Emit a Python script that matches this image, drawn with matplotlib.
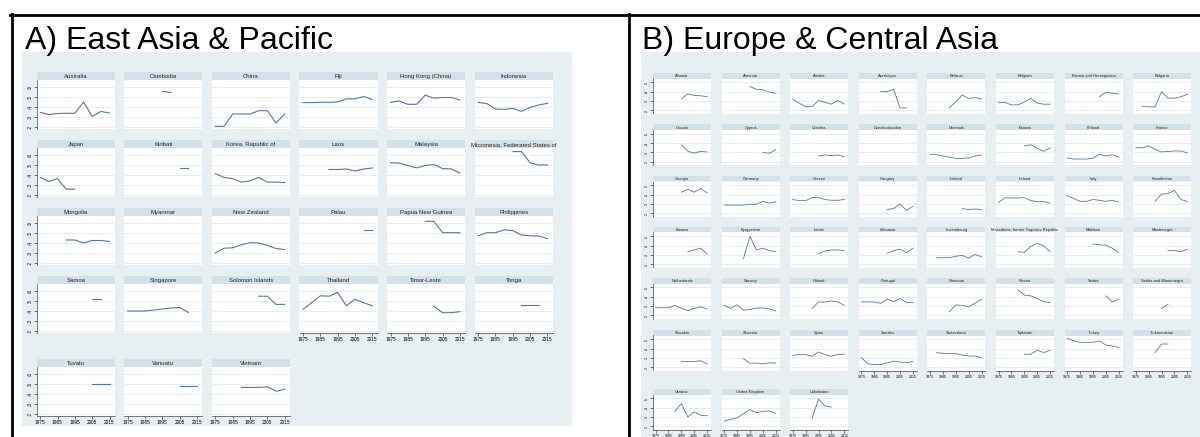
import numpy as np
import matplotlib
matplotlib.use("Agg")
import matplotlib.pyplot as plt
from matplotlib.patches import Rectangle
from matplotlib.lines import Line2D

W, H = 1200, 437
N = None

years = [1975, 1980, 1985, 1990, 1995, 2000, 2005, 2010, 2015]

# East Asia & Pacific, Gini by 5-year period
eap_names = [
    "Australia", "Cambodia", "China", "Fiji", "Hong Kong (China)", "Indonesia",
    "Japan", "Kiribati", "Korea, Republic of", "Laos", "Malaysia",
    "Micronesia, Federated States of",
    "Mongolia", "Myanmar", "New Zealand", "Palau", "Papua New Guinea", "Philippines",
    "Samoa", "Singapore", "Solomon Islands", "Thailand", "Timor-Leste", "Tonga",
    "Tuvalu", "Vanuatu", "Vietnam",
]
eap_gini = [
    [.347, .325, .335, .337, .337, .45, .305, .355, .34],
    [N, N, N, N, .555, .545, N, N, N],
    [.207, .207, .33, .33, .33, .363, .363, .24, .33],
    [.444, .444, .447, .447, .45, .481, .481, .505, .475],
    [.447, .46, .427, .427, .519, .488, .495, .495, .47],
    [.447, .434, .38, .376, .386, .356, .397, .42, .437],
    [.376, .336, .363, .258, .258, N, N, N, N],
    [N, N, N, N, N, N, .47, .47, N],
    [.414, .376, .363, .329, .342, .376, .329, .329, .325],
    [N, N, N, .455, .455, .46, .44, .46, .47],
    [.522, .519, .495, .471, .495, .505, .464, .461, .42],
    [N, N, N, N, .634, .634, .522, .5, .5],
    [N, N, N, .43, .43, .40, .425, .425, .415],
    [N, N, N, N, N, N, N, N, N],
    [.30, .348, .352, .383, .403, .40, .376, .345, .334],
    [N, N, N, N, N, N, N, .528, .528],
    [N, N, N, N, .617, .617, .503, .503, .503],
    [.472, .503, .503, .531, .524, .479, .472, .469, .445],
    [N, N, N, N, N, N, .517, .517, N],
    [.40, .40, .40, .41, .42, .43, .435, .385, N],
    [N, N, N, N, N, .548, .548, .466, .466],
    [.417, .483, .552, .548, .586, .452, .517, .483, .452],
    [N, N, N, N, N, .448, .383, .383, .393],
    [N, N, N, N, N, .465, .465, .465, N],
    [N, N, N, N, N, N, .50, .50, .50],
    [N, N, N, N, N, N, .483, .483, .483],
    [N, N, N, .466, .466, .466, .472, .428, .448],
]

# Europe & Central Asia
eca_names = [
    "Albania", "Armenia", "Austria", "Azerbaijan", "Belarus", "Belgium",
    "Bosnia and Herzegovina", "Bulgaria",
    "Croatia", "Cyprus", "Czechia", "Czechoslovakia", "Denmark", "Estonia",
    "Finland", "France",
    "Georgia", "Germany", "Greece", "Hungary", "Iceland", "Ireland", "Italy",
    "Kazakhstan",
    "Kosovo", "Kyrgyzstan", "Latvia", "Lithuania", "Luxembourg",
    "Macedonia, former Yugoslav Republic", "Moldova", "Montenegro",
    "Netherlands", "Norway", "Poland", "Portugal", "Romania", "Russia", "Serbia",
    "Serbia and Montenegro",
    "Slovakia", "Slovenia", "Spain", "Sweden", "Switzerland", "Tajikistan",
    "Turkey", "Turkmenistan",
    "Ukraine", "United Kingdom", "Uzbekistan",
]
eca_gini = [
    [N, N, N, N, .32, .375, .36, .355, .345],
    [N, N, N, N, .453, .425, .42, .394, .382],
    [.316, .276, .237, .237, .304, .284, .265, .304, .265],
    [N, N, N, .40, .40, .425, .225, .225, N],
    [N, N, N, .225, .29, .363, .327, .335, .324],
    [.284, .284, .257, .257, .288, .327, .276, .265, .265],
    [N, N, N, N, N, .343, .394, .382, .375],
    [N, .24, .237, .235, .40, .33, .33, .345, .37],
    [N, N, N, N, .382, .312, .292, .312, .304],
    [N, N, N, N, N, N, .30, .29, .33],
    [N, N, N, N, .261, .273, .265, .273, .253],
    [N, N, N, N, N, N, N, N, N],
    [.28, .276, .262, .25, .235, .237, .24, .262, .272],
    [N, N, N, N, .37, .382, .343, .312, .35],
    [.241, .229, .229, .229, .237, .28, .261, .276, .249],
    [.35, .35, .37, .33, .305, .31, .315, .315, .295],
    [N, N, N, N, .425, .457, .425, .465, .418],
    [.288, .288, .288, .288, .296, .296, .327, .308, .324],
    [.347, .335, .335, .367, .367, .347, .339, .339, .347],
    [N, N, N, N, .24, .25, .30, .23, .275],
    [N, N, N, N, N, .25, .24, .245, .24],
    [.316, .367, .363, .363, .367, .335, .324, .324, .308],
    [.386, .359, .327, .327, .347, .339, .327, .339, .32],
    [N, N, N, .327, .406, .41, .445, .347, .327],
    [N, N, N, N, N, .335, .353, .372, .31],
    [N, N, N, .262, .50, .353, .372, .346, .335],
    [N, N, N, N, .31, .342, .353, .353, .346],
    [N, N, N, N, .317, .346, .361, .324, .372],
    [N, .27, .27, .27, .285, .295, .265, .305, .28],
    [N, N, N, .335, .328, .39, .427, .397, .335],
    [N, N, N, N, .416, .408, .405, .372, .324],
    [N, N, N, N, N, .346, .346, .335, .361],
    [.28, .28, .28, .306, .273, .251, .273, .288, .269],
    [.306, .273, .313, .255, .262, .277, .277, .269, .244],
    [N, N, N, .273, .342, .342, .353, .342, .306],
    [.342, .342, .342, .328, .372, .346, .379, .335, .335],
    [N, N, N, .236, .31, .306, .291, .328, .372],
    [N, N, N, .471, .416, .408, .379, .346, .335],
    [N, N, N, N, N, N, .408, .342, .372],
    [N, N, N, N, .273, .317, N, N, N],
    [N, N, N, N, .262, .262, .262, .269, .236],
    [N, N, N, .291, .244, .244, .236, .247, .244],
    [.328, .335, .335, .317, .364, .335, .317, .339, .339],
    [.302, .236, .229, .229, .247, .266, .255, .247, .262],
    [N, .355, .35, .345, .345, .33, .32, .32, .30],
    [N, N, N, N, .339, .339, .383, .357, .383],
    [.511, .485, .467, .467, .467, .482, .438, .427, .412],
    [N, N, N, .357, .449, .449, N, N, N],
    [N, N, N, .36, .442, .30, .353, .317, .313],
    [.255, .273, .29, .335, .378, .345, .36, .363, .335],
    [N, N, N, .288, .49, .417, .406, N, N],
]

BG = "#e8eff2"
BAND = "#d5e1e8"
LINE = "#56789c"
GRID = "#e3eaee"

plt.rcParams["font.family"] = ["Liberation Sans", "DejaVu Sans"]

fig = plt.figure(figsize=(W / 100, H / 100), dpi=100)


def frac(x, y, w, h):
    # pixel box (top-left origin) -> figure fraction
    return [x / W, 1 - (y + h) / H, w / W, h / H]


def tick_fmt(v):
    return f"{v:.1f}".lstrip("0")


def small_multiples(names, series, ncols, x0, dx, width, tops, hdr_h, plot_h,
                    ylim, yticks, fs_name, fs_tick, lw):
    n = len(names)
    for i, (name, vals) in enumerate(zip(names, series)):
        r, c = divmod(i, ncols)
        x = x0 + c * dx
        top = tops[r]

        hax = fig.add_axes(frac(x, top, width, hdr_h))
        hax.set_facecolor(BAND)
        hax.set_xticks([])
        hax.set_yticks([])
        for s in hax.spines.values():
            s.set_visible(False)
        hax.text(0.5, 0.45, name, ha="center", va="center", fontsize=fs_name,
                 color="#222222", transform=hax.transAxes)

        ax = fig.add_axes(frac(x, top + hdr_h, width, plot_h))
        ax.set_facecolor("white")
        y = np.array([np.nan if v is None else v for v in vals], dtype=float)
        ax.plot(years, y, color=LINE, lw=lw, solid_joinstyle="round")
        ax.set_xlim(1973, 2018)
        ax.set_ylim(*ylim)
        ax.set_yticks(yticks)
        ax.set_xticks(years[::2])
        ax.grid(axis="y", color=GRID, lw=0.6)
        ax.set_axisbelow(True)
        for s in ax.spines.values():
            s.set_visible(False)

        first_col = c == 0
        bottom = i + ncols >= n
        ax.tick_params(axis="y", left=first_col, labelleft=first_col,
                       labelsize=fs_tick, length=2, width=0.5, pad=1,
                       rotation=90, color="#444444")
        ax.tick_params(axis="x", bottom=bottom, labelbottom=bottom,
                       labelsize=fs_tick, length=2, width=0.5, pad=1,
                       color="#444444")
        if first_col:
            ax.spines["left"].set_visible(True)
            ax.spines["left"].set_linewidth(0.5)
            ax.spines["left"].set_color("#444444")
            ax.set_yticklabels([tick_fmt(v) for v in yticks], va="center")
        if bottom:
            ax.spines["bottom"].set_visible(True)
            ax.spines["bottom"].set_linewidth(0.5)
            ax.spines["bottom"].set_color("#444444")


# region backgrounds, kept behind the panels
fig.add_artist(Rectangle((22 / W, 1 - 426 / H), 550 / W, 374 / H,
                         transform=fig.transFigure, facecolor=BG,
                         edgecolor="none", zorder=-5))
fig.add_artist(Rectangle((641 / W, 0), 560 / W, 1 - 52 / H,
                         transform=fig.transFigure, facecolor=BG,
                         edgecolor="none", zorder=-5))

# panel A: 6 columns
small_multiples(eap_names, eap_gini, 6, 36.7, 87.6, 78,
                [72, 140, 208, 276, 359], 8, 49,
                (0.18, 0.67), [.2, .3, .4, .5, .6], 4.3, 3.4, 0.8)

# panel B: 8 columns
small_multiples(eca_names, eca_gini, 8, 653, 68.6, 58,
                [73, 124.5, 176, 227, 278, 330, 389], 5.5, 35,
                (0.165, 0.54), [.2, .3, .4, .5], 2.9, 2.6, 0.6)

# titles
fig.text(25 / W, 1 - 48.5 / H, "A) East Asia & Pacific", fontsize=23,
         va="baseline", ha="left")
fig.text(642 / W, 1 - 48.5 / H, "B) Europe & Central Asia", fontsize=23,
         va="baseline", ha="left")

# table borders
for xs, ys in [([10, W], [14.5, 14.5]), ([11.5, 11.5], [14, H]), ([628.5, 628.5], [14, H])]:
    fig.add_artist(Line2D([v / W for v in xs], [1 - v / H for v in ys],
                          transform=fig.transFigure, color="black", lw=2))

fig.savefig("out.png", dpi=100)
